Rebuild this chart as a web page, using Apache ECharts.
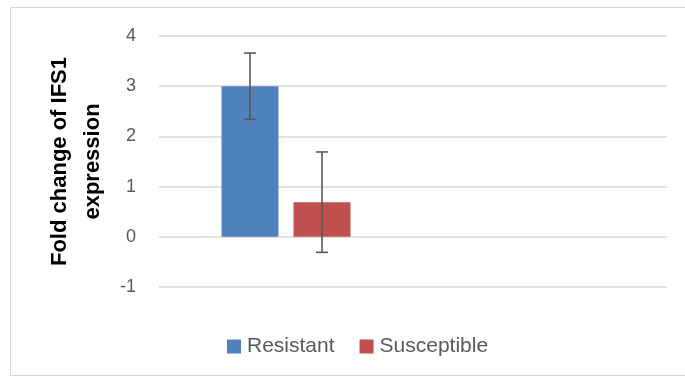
<!DOCTYPE html>
<html>
<head>
<meta charset="utf-8">
<script src="https://cdn.jsdelivr.net/npm/echarts@6/dist/echarts.min.js"></script>
<style>
html,body{margin:0;padding:0;background:#fff;}
#c{width:685px;height:377px;}
</style>
</head>
<body>
<div id="c"></div>
<script>
var categories = ['Group', ''];
var seriesNames = ['Resistant', 'Susceptible'];
var resistantValues = [3.0, null];
var susceptibleValues = [0.69, null];
var resistantErrors = [0.66, null];
var susceptibleErrors = [1.0, null];
var yTicks = [-1, 0, 1, 2, 3, 4];

var BAR_W = 57, BAR_GAP = 15;
var colors = ['#4f81bd', '#c0504d'];

function errSeries(values, errors, sign) {
  var data = [];
  for (var i = 0; i < values.length; i++) {
    if (values[i] != null) data.push([i, values[i], values[i] - errors[i], values[i] + errors[i]]);
  }
  return {
    type: 'custom',
    silent: true,
    z: 10,
    data: data,
    renderItem: function (params, api) {
      var off = sign * (BAR_W + BAR_GAP) / 2;
      var lo = api.coord([api.value(0), api.value(2)]);
      var hi = api.coord([api.value(0), api.value(3)]);
      var x = lo[0] + off;
      var cap = 6;
      var st = {stroke: '#595959', lineWidth: 1.6};
      return {
        type: 'group',
        children: [
          {type: 'line', shape: {x1: x, y1: lo[1], x2: x, y2: hi[1]}, style: st},
          {type: 'line', shape: {x1: x - cap, y1: lo[1], x2: x + cap, y2: lo[1]}, style: st},
          {type: 'line', shape: {x1: x - cap, y1: hi[1], x2: x + cap, y2: hi[1]}, style: st}
        ]
      };
    }
  };
}

var chart = echarts.init(document.getElementById('c'));
chart.setOption({
  animation: false,
  backgroundColor: '#fff',
  graphic: [{
    type: 'rect', shape: {x: 10.5, y: 7.5, width: 690, height: 368},
    style: {fill: 'none', stroke: '#d9d9d9', lineWidth: 1}, silent: true
  }],
  grid: {left: 159, right: 18, top: 36, bottom: 90, containLabel: false},
  legend: {
    data: seriesNames,
    left: 222, top: 331,
    itemWidth: 14, itemHeight: 14, itemGap: 25,
    icon: 'rect',
    textStyle: {fontFamily: 'Liberation Sans', fontSize: 21, color: '#595959', padding: [0, 0, 0, 1]}
  },
  xAxis: {
    type: 'category',
    data: categories,
    axisLine: {show: false},
    axisTick: {show: false},
    axisLabel: {show: false},
    splitLine: {show: false}
  },
  yAxis: {
    type: 'value',
    min: yTicks[0], max: yTicks[yTicks.length - 1], interval: 1,
    axisLine: {show: false},
    axisTick: {show: false},
    axisLabel: {fontFamily: 'Liberation Sans', fontSize: 18, color: '#595959', margin: 23},
    splitLine: {lineStyle: {color: '#d9d9d9', width: 1.5}},
    name: 'Fold change of IFS1\nexpression',
    nameLocation: 'middle',
    nameRotate: 90,
    nameGap: 45,
    nameTextStyle: {fontFamily: 'Liberation Sans', fontWeight: 'bold', fontSize: 22, color: '#000', lineHeight: 33}
  },
  series: [
    {name: seriesNames[0], type: 'bar', data: resistantValues, barWidth: BAR_W, barGap: (BAR_GAP / BAR_W * 100) + '%', itemStyle: {color: colors[0]}},
    {name: seriesNames[1], type: 'bar', data: susceptibleValues, barWidth: BAR_W, itemStyle: {color: colors[1]}},
    errSeries(resistantValues, resistantErrors, -1),
    errSeries(susceptibleValues, susceptibleErrors, 1)
  ]
});
</script>
</body>
</html>
